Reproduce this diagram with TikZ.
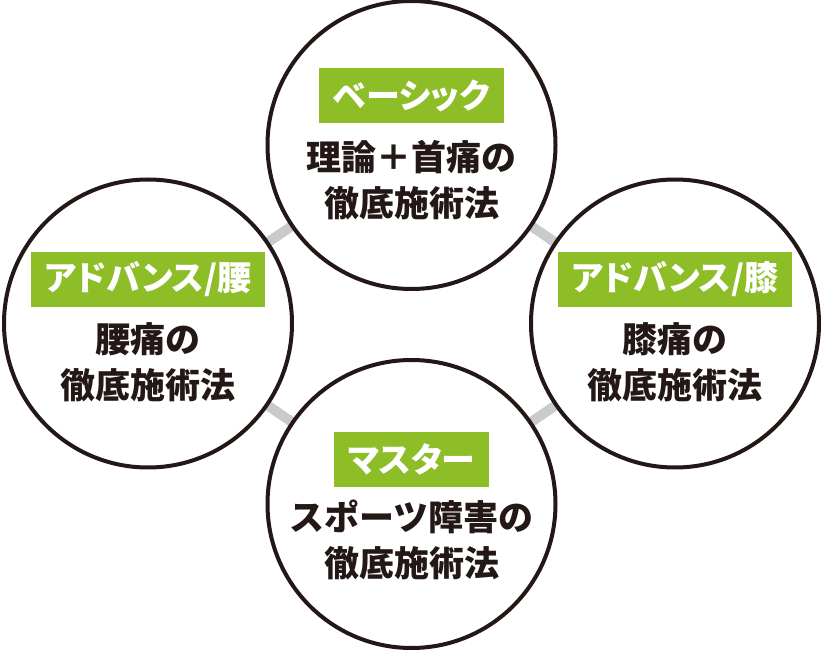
\documentclass[tikz,border=0pt]{standalone}
\usepackage{fontspec}
\setmainfont{Noto Sans CJK JP}[BoldFont={Noto Sans CJK JP Black}]
\usetikzlibrary{positioning,backgrounds}
\definecolor{tagGreen}{HTML}{8DBD27}
\definecolor{linkGray}{HTML}{C9CACB}
\definecolor{inkBlack}{HTML}{231815}

\begin{document}
\begin{tikzpicture}[x=1pt, y=-1pt,
    course/.style={circle, draw=inkBlack, line width=4pt, fill=white, minimum size=288pt, inner sep=0pt},
    tag/.style={fill=tagGreen, text=white, font=\bfseries\fontsize{34}{34}\selectfont\addfontfeatures{RawFeature=+palt}, inner xsep=14pt, inner ysep=0pt, minimum height=55pt},
    body/.style={text=inkBlack, font=\bfseries\fontsize{35}{46}\selectfont, align=center, inner sep=0pt},
    link/.style={draw=linkGray, line width=10pt}]
    \useasboundingbox (0,0) rectangle (823,652);

    % four courses
    \node [course] (basic) at (411.5,145) {};
    \node [course] (waist) at (148,323.5) {};
    \node [course] (knee) at (675,323.5) {};
    \node [course] (master) at (411.5,504) {};

    % gray links behind the circles
    \begin{scope}[on background layer]
        \draw [link] (basic.center) -- (waist.center);
        \draw [link] (basic.center) -- (knee.center);
        \draw [link] (waist.center) -- (master.center);
        \draw [link] (knee.center) -- (master.center);
    \end{scope}

    \node [tag] (basic-tag) at ([yshift=49.5pt]basic.center) {ベーシック};
    \node [body] (basic-text) at ([yshift=-35pt]basic.center) {理論＋首痛の\\徹底施術法};

    \node [tag] (waist-tag) at ([yshift=44pt]waist.center) {アドバンス/腰};
    \node [body] (waist-text) at ([yshift=-39pt]waist.center) {腰痛の\\徹底施術法};

    \node [tag] (knee-tag) at ([yshift=44pt]knee.center) {アドバンス/膝};
    \node [body] (knee-text) at ([yshift=-39pt]knee.center) {膝痛の\\徹底施術法};

    \node [tag] (master-tag) at ([yshift=44.5pt]master.center) {マスター};
    \node [body] (master-text) at ([yshift=-36pt]master.center) {スポーツ障害の\\徹底施術法};
\end{tikzpicture}
\end{document}
